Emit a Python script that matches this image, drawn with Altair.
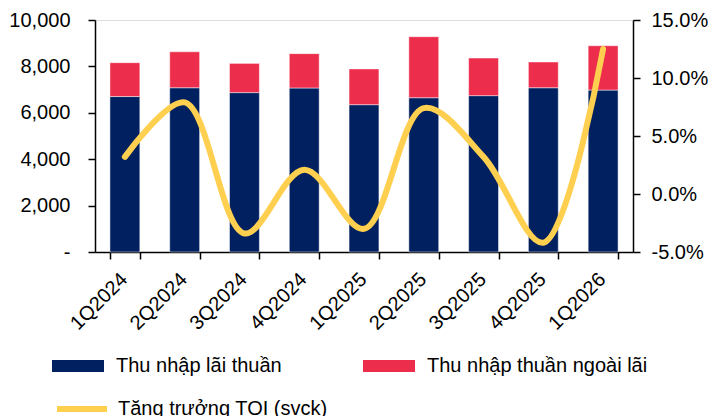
import altair as alt
import pandas as pd

# Quarterly operating income (billion VND) and YoY growth of total operating income
quarters = ["1Q2024", "2Q2024", "3Q2024", "4Q2024", "1Q2025",
            "2Q2025", "3Q2025", "4Q2025", "1Q2026"]
net_interest_income = [6700, 7080, 6870, 7070, 6350, 6650, 6740, 7080, 6980]
non_interest_income = [1460, 1550, 1260, 1480, 1540, 2630, 1620, 1110, 1910]
toi_growth = [0.032, 0.079, -0.034, 0.021, -0.030, 0.074, 0.032, -0.042, 0.125]

series_names = ["Thu nhập lãi thuần", "Thu nhập thuần ngoài lãi"]
line_name = "Tăng trưởng TOI (svck)"

NAVY = "#002060"
RED = "#EC2D4C"
YELLOW = "#FFCF4F"
FONT = "Liberation Sans"

bar_rows = []
for q, a, b in zip(quarters, net_interest_income, non_interest_income):
    bar_rows.append({"quarter": q, "series": series_names[0], "value": a, "order": 0})
    bar_rows.append({"quarter": q, "series": series_names[1], "value": b, "order": 1})
bars_df = pd.DataFrame(bar_rows)

line_df = pd.DataFrame({"quarter": quarters, "growth": toi_growth, "series": line_name})

x_enc = alt.X(
    "quarter:N",
    sort=quarters,
    title=None,
    scale=alt.Scale(paddingInner=0.5, paddingOuter=0.25),
    axis=alt.Axis(
        labelAngle=-45,
        labelAlign="right",
        labelBaseline="middle",
        labelFontSize=20,
        labelPadding=17,
        labelOffset=-1,
        tickBand="extent",
        tickSize=7,
        domainWidth=1.5,
        tickWidth=1.5,
        domainColor="black",
        tickColor="black",
        labelColor="black",
    ),
)

bars = alt.Chart(bars_df).mark_bar(
    stroke="#ffffff", strokeWidth=0.8, strokeOpacity=0.6
).encode(
    x=x_enc,
    y=alt.Y(
        "value:Q",
        stack="zero",
        title=None,
        scale=alt.Scale(domain=[0, 10000], nice=False),
        axis=alt.Axis(
            values=[0, 2000, 4000, 6000, 8000, 10000],
            labelExpr="datum.value == 0 ? '-' : format(datum.value, ',')",
            labelFontSize=20,
            labelPadding=18,
            tickSize=7,
            grid=False,
            domainWidth=1.5,
            tickWidth=1.5,
            domainColor="black",
            tickColor="black",
            labelColor="black",
        ),
    ),
    color=alt.Color(
        "series:N",
        scale=alt.Scale(domain=series_names, range=[NAVY, RED]),
        legend=alt.Legend(
            title=None,
            orient="none",
            legendX=-43,
            legendY=320,
            direction="horizontal",
            columns=2,
            columnPadding=81,
            symbolType="M-1,-0.23H1V0.23H-1Z",
            symbolSize=2704,
            symbolStrokeWidth=0,
            labelFontSize=20,
            labelOffset=12,
            labelColor="black",
            labelLimit=400,
            padding=0,
        ),
    ),
    order=alt.Order("order:Q"),
)

line = alt.Chart(line_df).mark_line(
    strokeWidth=6, interpolate="catmull-rom", strokeCap="round"
).encode(
    x=alt.X("quarter:N", sort=quarters),
    y=alt.Y(
        "growth:Q",
        title=None,
        scale=alt.Scale(domain=[-0.05, 0.15], nice=False),
        axis=alt.Axis(
            orient="right",
            values=[-0.05, 0.0, 0.05, 0.10, 0.15],
            labelExpr="datum.value < 0 ? '-' + format(-datum.value, '.1%') : format(datum.value, '.1%')",
            labelFontSize=20,
            labelPadding=11,
            tickSize=7,
            grid=False,
            domainWidth=1.5,
            tickWidth=1.5,
            domainColor="black",
            tickColor="black",
            labelColor="black",
        ),
    ),
    stroke=alt.Stroke(
        "series:N",
        scale=alt.Scale(domain=[line_name], range=[YELLOW]),
        legend=alt.Legend(
            title=None,
            orient="none",
            legendX=-41,
            legendY=361,
            symbolType="stroke",
            symbolSize=2500,
            symbolStrokeWidth=6,
            labelFontSize=20,
            labelOffset=8,
            labelColor="black",
            labelLimit=400,
            padding=0,
        ),
    ),
)

chart = (
    alt.layer(bars, line)
    .resolve_scale(y="independent", color="independent", stroke="independent")
    .properties(
        width=538,
        height=232,
        autosize=alt.AutoSizeParams(type="none"),
        padding={"left": 95, "top": 20, "right": 79, "bottom": 164},
        background="white",
    )
    .configure_view(stroke=None)
    .configure(font=FONT)
)

chart.save("out.html", embed_options={"renderer": "svg", "actions": False})
